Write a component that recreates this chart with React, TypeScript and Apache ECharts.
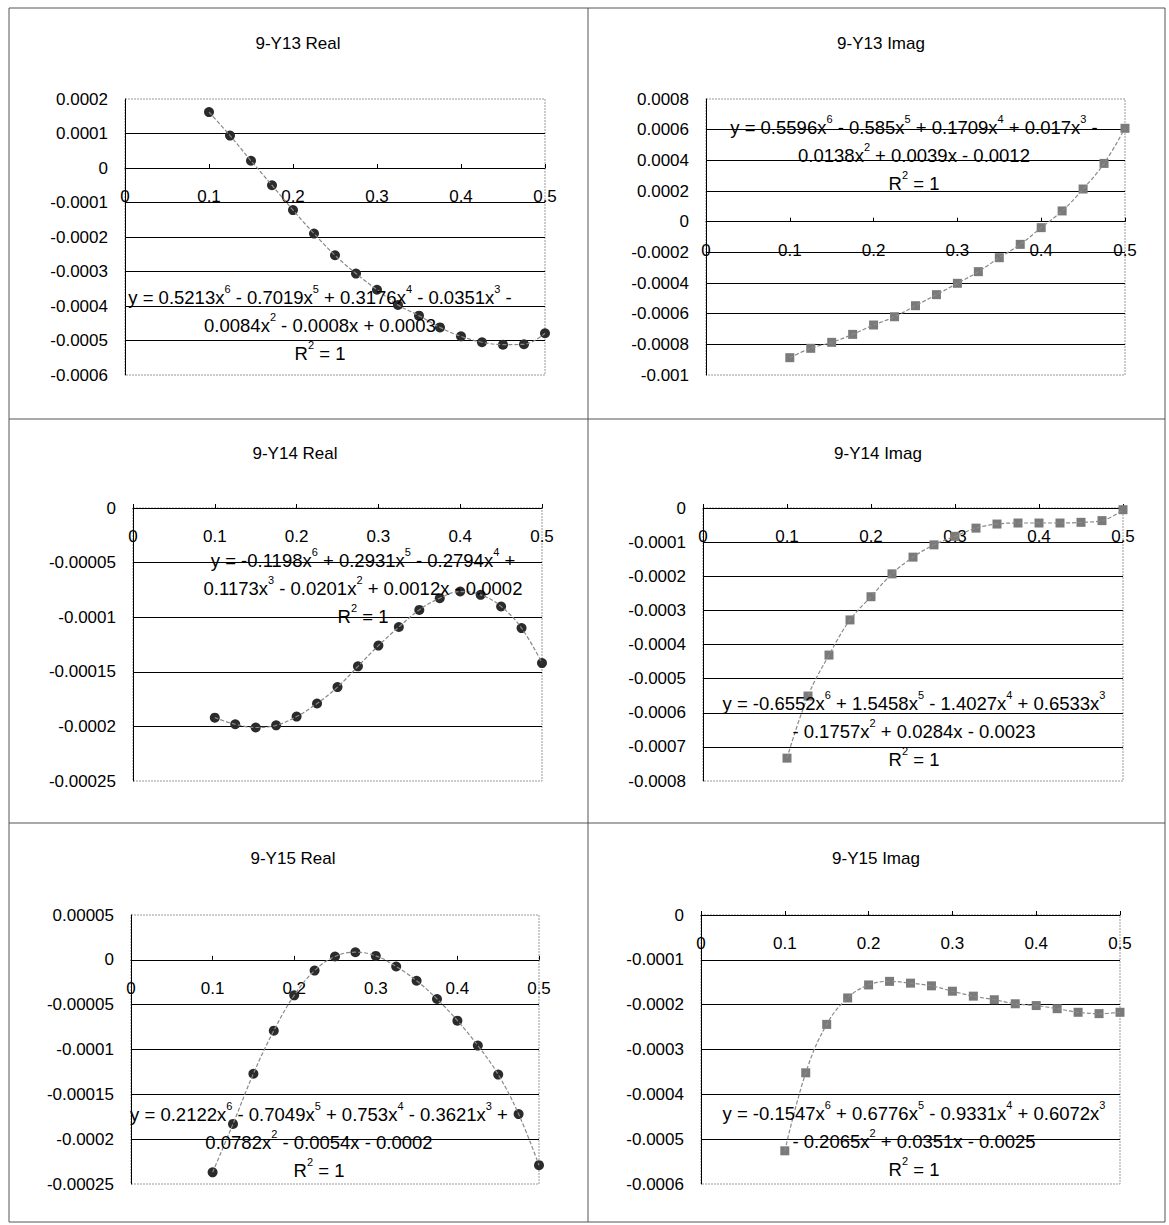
import React, { useEffect, useRef } from "react";
import * as echarts from "echarts";

// ---- data ----
const xValues = [0.1, 0.125, 0.15, 0.175, 0.2, 0.225, 0.25, 0.275, 0.3, 0.325, 0.35, 0.375, 0.4, 0.425, 0.45, 0.475, 0.5];

const y13Real = [0.000162, 0.000094, 0.000021, -0.00005, -0.000122, -0.00019, -0.000253, -0.000306, -0.000353, -0.000397, -0.000428, -0.000462, -0.000488, -0.000505, -0.000512, -0.000511, -0.000479];
const y13Imag = [-0.000887, -0.000826, -0.000787, -0.000735, -0.000674, -0.00062, -0.000548, -0.000476, -0.000402, -0.000326, -0.000235, -0.000148, -0.000039, 0.00007, 0.000213, 0.00038, 0.000609];
const y14Real = [-0.000192, -0.000198, -0.000201, -0.000199, -0.000191, -0.000179, -0.000164, -0.000145, -0.000126, -0.000109, -0.0000933, -0.0000826, -0.0000765, -0.0000795, -0.0000902, -0.00011, -0.000142];
const y14Imag = [-0.000733, -0.000551, -0.000431, -0.000328, -0.00026, -0.000193, -0.000144, -0.000108, -0.000083, -0.000059, -0.000047, -0.000044, -0.000044, -0.000044, -0.000042, -0.000037, -0.000005];
const y15Real = [-0.000237, -0.000183, -0.000127, -0.000079, -0.0000396, -0.000012, 0.0000037, 0.0000085, 0.0000044, -0.0000074, -0.0000233, -0.0000437, -0.0000678, -0.0000956, -0.000128, -0.000172, -0.000229];
const y15Imag = [-0.000526, -0.000352, -0.000244, -0.000185, -0.000156, -0.000148, -0.000152, -0.000158, -0.00017, -0.000181, -0.000189, -0.000198, -0.000202, -0.000209, -0.000217, -0.00022, -0.000217];

const titles = ["9-Y13 Real", "9-Y13 Imag", "9-Y14 Real", "9-Y14 Imag", "9-Y15 Real", "9-Y15 Imag"];

const xMin = 0;
const xMax = 0.5;
const xStep = 0.1;

const yMins = [-0.0006, -0.001, -0.00025, -0.0008, -0.00025, -0.0006];
const yMaxs = [0.0002, 0.0008, 0, 0, 0.00005, 0];
const ySteps = [0.0001, 0.0002, 0.00005, 0.0001, 0.00005, 0.0001];

const equations = [
  ["y = 0.5213x{s|6} - 0.7019x{s|5} + 0.3176x{s|4} - 0.0351x{s|3} -", "0.0084x{s|2} - 0.0008x + 0.0003", "R{s|2} = 1"],
  ["y = 0.5596x{s|6} - 0.585x{s|5} + 0.1709x{s|4} + 0.017x{s|3} -", "0.0138x{s|2} + 0.0039x - 0.0012", "R{s|2} = 1"],
  ["y = -0.1198x{s|6} + 0.2931x{s|5} - 0.2794x{s|4} +", "0.1173x{s|3} - 0.0201x{s|2} + 0.0012x - 0.0002", "R{s|2} = 1"],
  ["y = -0.6552x{s|6} + 1.5458x{s|5} - 1.4027x{s|4} + 0.6533x{s|3}", "- 0.1757x{s|2} + 0.0284x - 0.0023", "R{s|2} = 1"],
  ["y = 0.2122x{s|6} - 0.7049x{s|5} + 0.753x{s|4} - 0.3621x{s|3} +", "0.0782x{s|2} - 0.0054x - 0.0002", "R{s|2} = 1"],
  ["y = -0.1547x{s|6} + 0.6776x{s|5} - 0.9331x{s|4} + 0.6072x{s|3}", "- 0.2065x{s|2} + 0.0351x - 0.0025", "R{s|2} = 1"],
];

const seriesValues = [y13Real, y13Imag, y14Real, y14Imag, y15Real, y15Imag];
const markerShapes = ["circle", "rect", "circle", "rect", "circle", "rect"];

// ---- layout (pixels) ----
const FONT = "'Liberation Sans', Arial, sans-serif";
const layout = [
  { left: 125, top: 99, width: 420, height: 276, tx: 298, ty: 43, ex: 320, ey: 297 },
  { left: 706, top: 99, width: 419, height: 276, tx: 881, ty: 43, ex: 914, ey: 127 },
  { left: 133, top: 508, width: 409, height: 273, tx: 295, ty: 453, ex: 363, ey: 560 },
  { left: 703, top: 508, width: 420, height: 273, tx: 878, ty: 453, ex: 914, ey: 703 },
  { left: 131, top: 915, width: 408, height: 269, tx: 293, ty: 858, ex: 319, ey: 1114 },
  { left: 701, top: 915, width: 419, height: 269, tx: 876, ty: 858, ex: 914, ey: 1113 },
];

const fmt = (v: number) => {
  if (Math.abs(v) < 1e-12) return "0";
  return String(parseFloat(v.toFixed(8)));
};

export default function App() {
  const ref = useRef<HTMLDivElement>(null);
  useEffect(() => {
    if (!ref.current) return;
    const chart = echarts.init(ref.current, undefined, { renderer: "svg" });

    const grids = layout.map((l) => ({ left: l.left, top: l.top, width: l.width, height: l.height, containLabel: false }));
    const xAxes = layout.map((l, i) => {
      // place the x axis where y = 0 (Excel style crossing)
      const zeroFrac = (0 - yMins[i]) / (yMaxs[i] - yMins[i]);
      return {
        type: "value",
        gridIndex: i,
        position: "bottom",
        offset: -zeroFrac * l.height,
        min: xMin,
        max: xMax,
        interval: xStep,
        axisLine: { show: true, onZero: false, lineStyle: { color: "#000", width: 1 } },
        axisTick: { show: true, inside: true, length: 4, lineStyle: { color: "#000" } },
        axisLabel: { margin: 20, fontSize: 17, color: "#000", fontFamily: FONT, formatter: fmt },
        splitLine: { show: false },
      };
    });
    const yAxes = layout.map((_, i) => ({
      type: "value",
      gridIndex: i,
      min: yMins[i],
      max: yMaxs[i],
      interval: ySteps[i],
      axisLine: { show: true, onZero: false, lineStyle: { color: "#000", width: 1 } },
      axisTick: { show: false },
      axisLabel: { margin: 17, fontSize: 17, color: "#000", fontFamily: FONT, formatter: fmt },
      splitLine: { show: true, showMinLine: false, showMaxLine: false, lineStyle: { color: "#000", width: 1 } },
    }));

    const series: any[] = [];
    seriesValues.forEach((vals, i) => {
      const pts = xValues.map((x, k) => [x, vals[k]]);
      series.push({
        type: "line",
        xAxisIndex: i,
        yAxisIndex: i,
        data: pts,
        smooth: 0.4,
        showSymbol: false,
        symbol: "none",
        lineStyle: { color: "#8a8a8a", width: 1.2, type: [4, 2] },
        z: 3,
      });
      series.push({
        type: "scatter",
        xAxisIndex: i,
        yAxisIndex: i,
        data: pts,
        symbol: markerShapes[i],
        symbolSize: markerShapes[i] === "circle" ? 10 : 9,
        itemStyle: {
          color: markerShapes[i] === "circle" ? "#2b2b2b" : "#7a7a7a",
          opacity: 1,
        },
        z: 2,
      });
    });

    const graphics: any[] = [];
    graphics.push({ type: "rect", shape: { x: 9, y: 8, width: 1156, height: 1214 }, style: { fill: "none", stroke: "#555", lineWidth: 1 }, z: 0 });
    graphics.push({ type: "line", shape: { x1: 588, y1: 8, x2: 588, y2: 1222 }, style: { stroke: "#555", lineWidth: 1 }, z: 0 });
    graphics.push({ type: "line", shape: { x1: 9, y1: 419, x2: 1165, y2: 419 }, style: { stroke: "#555", lineWidth: 1 }, z: 0 });
    graphics.push({ type: "line", shape: { x1: 9, y1: 823, x2: 1165, y2: 823 }, style: { stroke: "#555", lineWidth: 1 }, z: 0 });

    layout.forEach((l, i) => {
      graphics.push({
        type: "rect",
        shape: { x: l.left, y: l.top, width: l.width, height: l.height },
        style: { fill: "none", stroke: "#999", lineWidth: 1, lineDash: [2, 1] },
        z: 0,
      });
      graphics.push({
        type: "text",
        style: { text: titles[i], x: l.tx, y: l.ty, align: "center", verticalAlign: "middle", fontSize: 17, fontFamily: FONT, fill: "#000" },
        z: 10,
      });
      graphics.push({
        type: "text",
        style: {
          text: equations[i].join("\n"),
          x: l.ex,
          y: l.ey - 14,
          align: "center",
          verticalAlign: "top",
          fontSize: 18.5,
          fontFamily: FONT,
          fill: "#000",
          lineHeight: 28,
          rich: {
            s: { fontSize: 11, lineHeight: 12, verticalAlign: "top", fontFamily: FONT, fill: "#000" },
          },
        },
        z: 10,
      });
    });

    chart.setOption({
      animation: false,
      backgroundColor: "#fff",
      grid: grids,
      xAxis: xAxes,
      yAxis: yAxes,
      series,
      graphic: { elements: graphics },
    } as any);

    return () => chart.dispose();
  }, []);

  return <div ref={ref} style={{ position: "absolute", left: 0, top: 0, width: 1169, height: 1225, background: "#fff" }} />;
}
